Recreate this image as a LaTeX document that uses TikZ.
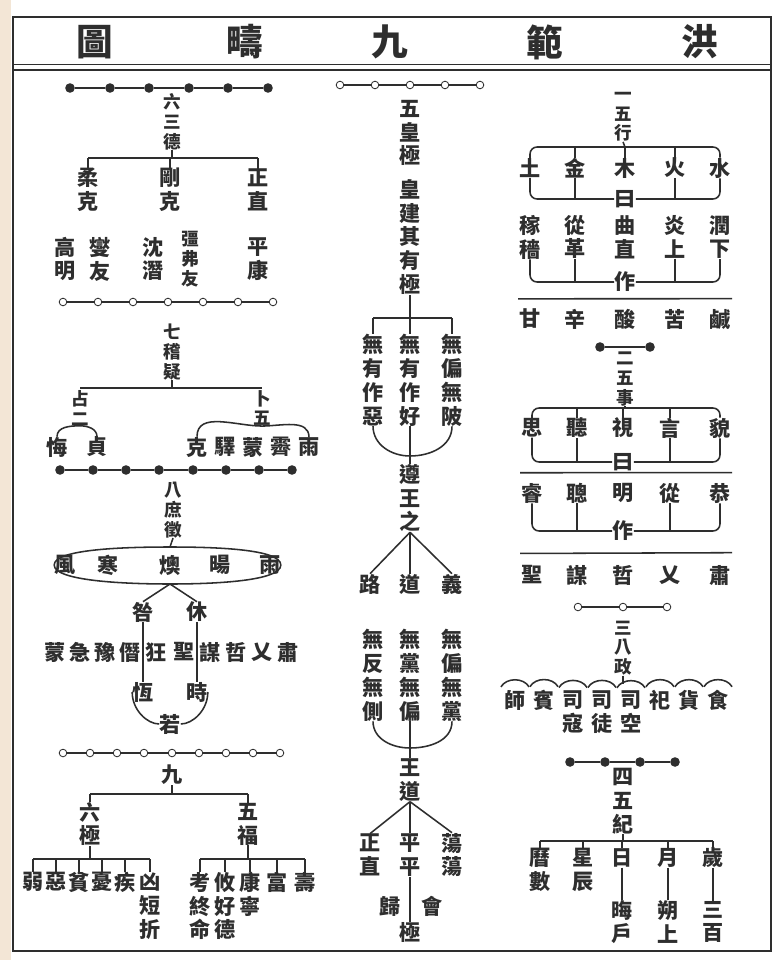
\documentclass[tikz,border=0pt]{standalone}
\usepackage{fontspec}
\newfontfamily\cjkfont{Noto Sans CJK TC}
\usetikzlibrary{calc,positioning}
\definecolor{ink}{HTML}{2E2E2E}
\definecolor{paper}{HTML}{F3E6D6}

\begin{document}
\begin{tikzpicture}[
  x=0.025cm,
  y=-0.025cm,
  zi/.style={
    font=\cjkfont\bfseries\fontsize{15}{17}\selectfont,
    text=ink,
    inner sep=0pt,
    align=center
  },
  xiaozi/.style={
    font=\cjkfont\bfseries\fontsize{12.5}{14}\selectfont,
    text=ink,
    inner sep=0pt,
    align=center
  },
  biaoti/.style={
    font=\cjkfont\bfseries\fontsize{26}{30}\selectfont,
    text=ink,
    inner sep=0pt
  },
  heidian/.style={circle,fill=ink,inner sep=0pt,minimum size=0.24cm},
  baidian/.style={circle,draw=ink,fill=white,line width=0.6pt,inner sep=0pt,minimum size=0.19cm},
  xian/.style={draw=ink,line width=1.1pt},
  gou/.style={draw=ink,line width=1.1pt,rounded corners=5pt}
]
\useasboundingbox (0,0) rectangle (774,960);

% ground and frame
\fill[white] (0,0) rectangle (774,960);
\fill[paper] (0,0) rectangle (11,960);
\draw[ink,line width=2pt] (13,17) rectangle (771,951);
\draw[ink,line width=0.5pt] (13,64) -- (771,64);
\draw[ink,line width=1.8pt] (13,70) -- (771,70);

% title
\node[biaoti] (tu) at (95,42) {圖};
\node[biaoti] (chou) at (245,42) {疇};
\node[biaoti] (jiu) at (390,42) {九};
\node[biaoti] (fan) at (545,42) {範};
\node[biaoti] (hong) at (700,42) {洪};

% one: five phases
\node[xiaozi] (wxlab) at (623,117) {一\\五\\行};
\coordinate (wxtop) at (625,147);
\node[zi] (wtu) at (530,168) {土};
\node[zi] (wjin) at (575,168) {金};
\node[zi] (wmu) at (625,168) {木};
\node[zi] (whuo) at (675,168) {火};
\node[zi] (wshui) at (720,168) {水};
\draw[gou] (wtu.north) |- (wxtop) -| (wshui.north);
\draw[xian] (wxlab.south) -- (wxtop);
\draw[xian] (wjin.north) -- (wjin.north |- wxtop);
\draw[xian] (wmu.north) -- (wxtop);
\draw[xian] (whuo.north) -- (whuo.north |- wxtop);

\node[zi] (wyue) at (625,199) {曰};
\draw[gou] (wtu.south) |- (wyue.west);
\draw[gou] (wshui.south) |- (wyue.east);
\draw[xian] (wjin.south) -- (wjin.south |- wyue.west);
\draw[xian] (whuo.south) -- (whuo.south |- wyue.east);

\node[zi] (wjia) at (530,237) {稼\\穡};
\node[zi] (wcong) at (575,237) {從\\革};
\node[zi] (wqu) at (625,237) {曲\\直};
\node[zi] (wyan) at (675,237) {炎\\上};
\node[zi] (wrun) at (720,237) {潤\\下};

\node[zi] (wzuo) at (625,282) {作};
\draw[gou] (wjia.south) |- (wzuo.west);
\draw[gou] (wrun.south) |- (wzuo.east);
\draw[xian] (wcong.south) -- (wcong.south |- wzuo.west);
\draw[xian] (wyan.south) -- (wyan.south |- wzuo.east);

\node[zi] (wgan) at (530,319) {甘};
\node[zi] (wxin) at (575,319) {辛};
\node[zi] (wsuan) at (625,319) {酸};
\node[zi] (wku) at (675,319) {苦};
\node[zi] (wxian) at (720,319) {鹹};
\draw[xian] ($(wgan.north)+(-12,-10)$) -- ($(wxian.north)+(12,-10)$);

% two: five affairs
\node[heidian] (ws1) at (600,347) {};
\node[heidian] (ws2) at (650,347) {};
\draw[xian] (ws1) -- (ws2);
\node[xiaozi] (wslab) at (625,379) {二\\五\\事};
\coordinate (wsbar) at (625,408);
\node[zi] (shsi) at (532,428) {思};
\node[zi] (shting) at (577,428) {聽};
\node[zi] (shshi) at (623,428) {視};
\node[zi] (shyan) at (670,428) {言};
\node[zi] (shmao) at (720,428) {貌};
\draw[gou] (shsi.north) |- (wsbar) -| (shmao.north);
\draw[xian] (wslab.south) -- (wsbar);
\foreach \n in {shting,shshi,shyan}
  \draw[xian] (\n.north) -- (\n.north |- wsbar);

\node[zi] (shyue) at (623,462) {曰};
\draw[gou] (shsi.south) |- (shyue.west);
\draw[gou] (shmao.south) |- (shyue.east);
\draw[xian] (shting.south) -- (shting.south |- shyue.west);
\draw[xian] (shyan.south) -- (shyan.south |- shyue.east);

\node[zi] (shrui) at (532,493) {睿};
\node[zi] (shcong) at (577,493) {聰};
\node[zi] (shming) at (623,493) {明};
\node[zi] (shcongb) at (670,493) {從};
\node[zi] (shgong) at (720,493) {恭};
\draw[xian] ($(shrui.north)+(-12,-10)$) -- ($(shgong.north)+(12,-10)$);

\node[zi] (shzuo) at (623,531) {作};
\draw[gou] (shrui.south) |- (shzuo.west);
\draw[gou] (shgong.south) |- (shzuo.east);
\draw[xian] (shcong.south) -- (shcong.south |- shzuo.west);
\draw[xian] (shcongb.south) -- (shcongb.south |- shzuo.east);

\node[zi] (shsheng) at (532,575) {聖};
\node[zi] (shmou) at (577,575) {謀};
\node[zi] (shzhe) at (623,575) {哲};
\node[zi] (shyi) at (670,575) {乂};
\node[zi] (shsu) at (720,575) {肅};
\draw[xian] ($(shsheng.north)+(-12,-12)$) -- ($(shsu.north)+(12,-12)$);

% three: eight governances
\node[baidian] (bz1) at (578,607) {};
\node[baidian] (bz2) at (623,607) {};
\node[baidian] (bz3) at (667,607) {};
\draw[xian] (bz1) -- (bz2) -- (bz3);
\node[xiaozi] (bzlab) at (623,648) {三\\八\\政};
\coordinate (bztop) at (623,684);
\draw[xian] (bzlab.south) -- (bztop);
\node[zi] (bzs1) at (515,700) {師};
\node[zi] (bzs2) at (544,700) {賓};
\node[zi] (bzs3) at (573,712) {司\\寇};
\node[zi] (bzs4) at (602,712) {司\\徒};
\node[zi] (bzs5) at (631,712) {司\\空};
\node[zi] (bzs6) at (660,700) {祀};
\node[zi] (bzs7) at (689,700) {貨};
\node[zi] (bzs8) at (718,700) {食};
\foreach \i in {1,...,8}
  \draw[xian] ([shift={(-10pt,2pt)}]bzs\i.north) to[bend left=60] ([shift={(10pt,2pt)}]bzs\i.north);

% four: five records
\node[heidian] (wj1) at (570,762) {};
\node[heidian] (wj2) at (605,762) {};
\node[heidian] (wj3) at (640,762) {};
\node[heidian] (wj4) at (675,762) {};
\draw[xian] (wj1) -- (wj2) -- (wj3) -- (wj4);
\node[zi] (wjlab) at (623,801) {四\\五\\紀};
\coordinate (wjbar) at (0,841);
\node[zi] (wjli) at (540,870) {曆\\數};
\node[zi] (wjxing) at (583,870) {星\\辰};
\node[zi] (wjri) at (622,858) {日};
\node[zi] (wjyue) at (668,858) {月};
\node[zi] (wjsui) at (713,858) {歲};
\draw[xian] (wjli.north |- wjbar) -- (wjsui.north |- wjbar);
\draw[xian] (wjlab.south) -- (wjlab.south |- wjbar);
\foreach \n in {wjli,wjxing,wjri,wjyue,wjsui}
  \draw[xian] (\n.north |- wjbar) -- (\n.north);
\node[zi] (wjri2) at (622,922) {晦\\戶};
\node[zi] (wjyue2) at (668,922) {朔\\上};
\node[zi] (wjsui2) at (713,922) {三\\百};
\draw[xian] (wjri) -- (wjri2);
\draw[xian] (wjyue) -- (wjyue2);
\draw[xian] (wjsui) -- (wjsui2);

% five: august ultimate
\node[baidian] (hj1) at (340,85) {};
\node[baidian] (hj2) at (375,85) {};
\node[baidian] (hj3) at (410,85) {};
\node[baidian] (hj4) at (445,85) {};
\node[baidian] (hj5) at (480,85) {};
\draw[xian] (hj1) -- (hj2) -- (hj3) -- (hj4) -- (hj5);
\node[zi] (hjlab) at (410,133) {五\\皇\\極};
\node[zi] (hjzhu) at (410,237) {皇\\建\\其\\有\\極};
\coordinate (hjbar) at (0,318);
\node[zi] (hja) at (373,380) {無\\有\\作\\惡};
\node[zi] (hjb) at (410,380) {無\\有\\作\\好};
\node[zi] (hjc) at (452,380) {無\\偏\\無\\陂};
\draw[xian] (hja.north |- hjbar) -- (hjc.north |- hjbar);
\draw[xian] (hjzhu.south) -- (hjzhu.south |- hjbar);
\foreach \n in {hja,hjb,hjc}
  \draw[xian] (\n.north |- hjbar) -- (\n.north);
\coordinate (hjcup1) at (410,456);
\draw[xian] (hja.south) to[out=-90,in=180] (hjcup1) to[out=0,in=-90] (hjc.south);
\node[zi] (hjzun) at (410,498) {遵\\王\\之};
\draw[xian] (hjb.south) -- (hjzun.north);
\node[zi] (hjlu) at (370,584) {路};
\node[zi] (hjdao) at (410,584) {道};
\node[zi] (hjyi) at (452,584) {義};
\draw[xian] (hjzun.south) -- (hjlu.north);
\draw[xian] (hjzun.south) -- (hjdao.north);
\draw[xian] (hjzun.south) -- (hjyi.north);

\node[zi] (hjd) at (373,675) {無\\反\\無\\側};
\node[zi] (hje) at (410,675) {無\\黨\\無\\偏};
\node[zi] (hjf) at (452,675) {無\\偏\\無\\黨};
\coordinate (hjcup2) at (410,748);
\draw[xian] (hjd.south) to[out=-90,in=180] (hjcup2) to[out=0,in=-90] (hjf.south);
\node[zi] (hjwang) at (410,780) {王\\道};
\draw[xian] (hje.south) -- (hjwang.north);
\node[zi] (hjzheng) at (370,855) {正\\直};
\node[zi] (hjping) at (410,855) {平\\平};
\node[zi] (hjdang) at (452,855) {蕩\\蕩};
\draw[xian] (hjwang.south) -- (hjzheng.north);
\draw[xian] (hjwang.south) -- (hjping.north);
\draw[xian] (hjwang.south) -- (hjdang.north);
\node[zi] (hjgui) at (390,906) {歸};
\node[zi] (hjhui) at (432,906) {會};
\node[zi] (hjji) at (410,932) {極};
\draw[xian] (hjping.south) -- (hjji.north);

% six: three virtues
\node[heidian] (sd1) at (70,88) {};
\node[heidian] (sd2) at (110,88) {};
\node[heidian] (sd3) at (149,88) {};
\node[heidian] (sd4) at (189,88) {};
\node[heidian] (sd5) at (228,88) {};
\node[heidian] (sd6) at (268,88) {};
\draw[xian] (sd1) -- (sd2) -- (sd3) -- (sd4) -- (sd5) -- (sd6);
\node[xiaozi] (sdlab) at (172,122) {六\\三\\德};
\coordinate (sdbar) at (0,158);
\node[zi] (sdrou) at (88,190) {柔\\克};
\node[zi] (sdgang) at (170,190) {剛\\克};
\node[zi] (sdzheng) at (258,190) {正\\直};
\draw[xian] (sdrou.north |- sdbar) -- (sdzheng.north |- sdbar);
\draw[xian] (sdlab.south) -- (sdlab.south |- sdbar);
\foreach \n in {sdrou,sdgang,sdzheng}
  \draw[xian] (\n.north |- sdbar) -- (\n.north);
\node[zi] (sdgao) at (65,259) {高\\明};
\node[zi] (sdxie) at (100,259) {燮\\友};
\node[zi] (sdchen) at (153,259) {沈\\潛};
\node[xiaozi] (sdqiang) at (190,259) {彊\\弗\\友};
\node[zi] (sdping) at (258,259) {平\\康};

% seven: examining doubts
\node[baidian] (jy1) at (63,302) {};
\node[baidian] (jy2) at (98,302) {};
\node[baidian] (jy3) at (133,302) {};
\node[baidian] (jy4) at (168,302) {};
\node[baidian] (jy5) at (203,302) {};
\node[baidian] (jy6) at (238,302) {};
\node[baidian] (jy7) at (273,302) {};
\draw[xian] (jy1) -- (jy2) -- (jy3) -- (jy4) -- (jy5) -- (jy6) -- (jy7);
\node[xiaozi] (jylab) at (172,352) {七\\稽\\疑};
\coordinate (jybar) at (0,388);
\node[xiaozi] (jyzhan) at (80,408) {占\\二};
\node[xiaozi] (jybu) at (262,408) {卜\\五};
\draw[xian] (jyzhan.north |- jybar) -- (jybu.north |- jybar);
\draw[xian] (jylab.south) -- (jylab.south |- jybar);
\node[zi] (jyhui) at (57,447) {悔};
\node[zi] (jyzhen) at (97,447) {貞};
\draw[xian] (jyhui.north) to[out=90,in=180] (jyzhan.south) to[out=0,in=90] (jyzhen.north);
\node[zi] (jyke) at (197,447) {克};
\node[zi] (jyyi) at (225,447) {驛};
\node[zi] (jymeng) at (253,447) {蒙};
\node[zi] (jyji) at (281,447) {霽};
\node[zi] (jyyu) at (309,447) {雨};
\draw[xian] (jyke.north) to[out=90,in=180] (jybu.south) to[out=0,in=90] (jyyu.north);

% eight: signs
\node[heidian] (sz1) at (60,470) {};
\node[heidian] (sz2) at (93,470) {};
\node[heidian] (sz3) at (126,470) {};
\node[heidian] (sz4) at (159,470) {};
\node[heidian] (sz5) at (193,470) {};
\node[heidian] (sz6) at (226,470) {};
\node[heidian] (sz7) at (259,470) {};
\node[heidian] (sz8) at (292,470) {};
\draw[xian] (sz1) -- (sz2) -- (sz3) -- (sz4) -- (sz5) -- (sz6) -- (sz7) -- (sz8);
\node[xiaozi] (szlab) at (173,510) {八\\庶\\徵};
\coordinate (szbar1) at (170,547);
\coordinate (szbar2) at (170,584);
\node[zi] (zhfeng) at (65,565) {風};
\node[zi] (zhhan) at (108,565) {寒};
\node[zi] (zhao) at (170,565) {燠};
\node[zi] (zhyang) at (220,565) {暘};
\node[zi] (zhyu) at (270,565) {雨};
\draw[xian] (zhfeng.west) .. controls +(0,-16) and +(-45,0) .. (szbar1)
  .. controls +(45,0) and +(0,-16) .. (zhyu.east);
\draw[xian] (zhfeng.west) .. controls +(0,16) and +(-45,0) .. (szbar2)
  .. controls +(45,0) and +(0,16) .. (zhyu.east);
\draw[xian] (szlab.south) -- (szbar1);
\node[zi] (zhjiu) at (143,612) {咎};
\node[zi] (zhxiu) at (197,612) {休};
\draw[xian] (szbar2) -- (zhjiu.north);
\draw[xian] (szbar2) -- (zhxiu.north);
\node[zi] (zhk1) at (55,652) {蒙};
\node[zi] (zhk2) at (80,652) {急};
\node[zi] (zhk3) at (105,652) {豫};
\node[zi] (zhk4) at (130,652) {僭};
\node[zi] (zhk5) at (156,652) {狂};
\node[zi] (zhx1) at (184,652) {聖};
\node[zi] (zhx2) at (210,652) {謀};
\node[zi] (zhx3) at (236,652) {哲};
\node[zi] (zhx4) at (262,652) {乂};
\node[zi] (zhx5) at (288,652) {肅};
\node[zi] (zhheng) at (143,692) {恆};
\node[zi] (zhshi) at (197,692) {時};
\node[zi] (zhruo) at (170,724) {若};
\draw[xian] (zhjiu.south) -- (zhheng.north);
\draw[xian] (zhxiu.south) -- (zhshi.north);
\draw[xian] (zhheng.west) .. controls +(0,18) and +(-12,0) .. (zhruo.west);
\draw[xian] (zhshi.east) .. controls +(0,18) and +(12,0) .. (zhruo.east);

% nine: blessings and extremities
\node[baidian] (jc1) at (63,753) {};
\node[baidian] (jc2) at (90,753) {};
\node[baidian] (jc3) at (117,753) {};
\node[baidian] (jc4) at (144,753) {};
\node[baidian] (jc5) at (172,753) {};
\node[baidian] (jc6) at (199,753) {};
\node[baidian] (jc7) at (226,753) {};
\node[baidian] (jc8) at (253,753) {};
\node[baidian] (jc9) at (280,753) {};
\draw[xian] (jc1) -- (jc2) -- (jc3) -- (jc4) -- (jc5) -- (jc6) -- (jc7) -- (jc8) -- (jc9);
\node[zi] (jclab) at (172,775) {九};
\coordinate (jcbar) at (0,794);
\node[zi] (jcliu) at (90,824) {六\\極};
\node[zi] (jcwu) at (248,824) {五\\福};
\draw[xian] (jcliu.north |- jcbar) -- (jcwu.north |- jcbar);
\draw[xian] (jclab.south) -- (jclab.south |- jcbar);
\draw[xian] (jcliu.north |- jcbar) -- (jcliu.north);
\draw[xian] (jcwu.north |- jcbar) -- (jcwu.north);

\coordinate (jcbar2) at (0,859);
\node[zi] (lj1) at (33,882) {弱};
\node[zi] (lj2) at (56,882) {惡};
\node[zi] (lj3) at (79,882) {貧};
\node[zi] (lj4) at (102,882) {憂};
\node[zi] (lj5) at (125,882) {疾};
\node[zi] (lj6) at (150,906) {凶\\短\\折};
\draw[xian] (lj1.north |- jcbar2) -- (lj6.north |- jcbar2);
\draw[xian] (jcliu.south) -- (jcliu.south |- jcbar2);
\foreach \n in {lj1,lj2,lj3,lj4,lj5,lj6}
  \draw[xian] (\n.north |- jcbar2) -- (\n.north);

\node[zi] (wf1) at (200,906) {考\\終\\命};
\node[zi] (wf2) at (225,906) {攸\\好\\德};
\node[zi] (wf3) at (250,894) {康\\寧};
\node[zi] (wf4) at (277,882) {富};
\node[zi] (wf5) at (305,882) {壽};
\draw[xian] (wf1.north |- jcbar2) -- (wf5.north |- jcbar2);
\draw[xian] (jcwu.south) -- (jcwu.south |- jcbar2);
\foreach \n in {wf1,wf2,wf3,wf4,wf5}
  \draw[xian] (\n.north |- jcbar2) -- (\n.north);

\end{tikzpicture}
\end{document}
